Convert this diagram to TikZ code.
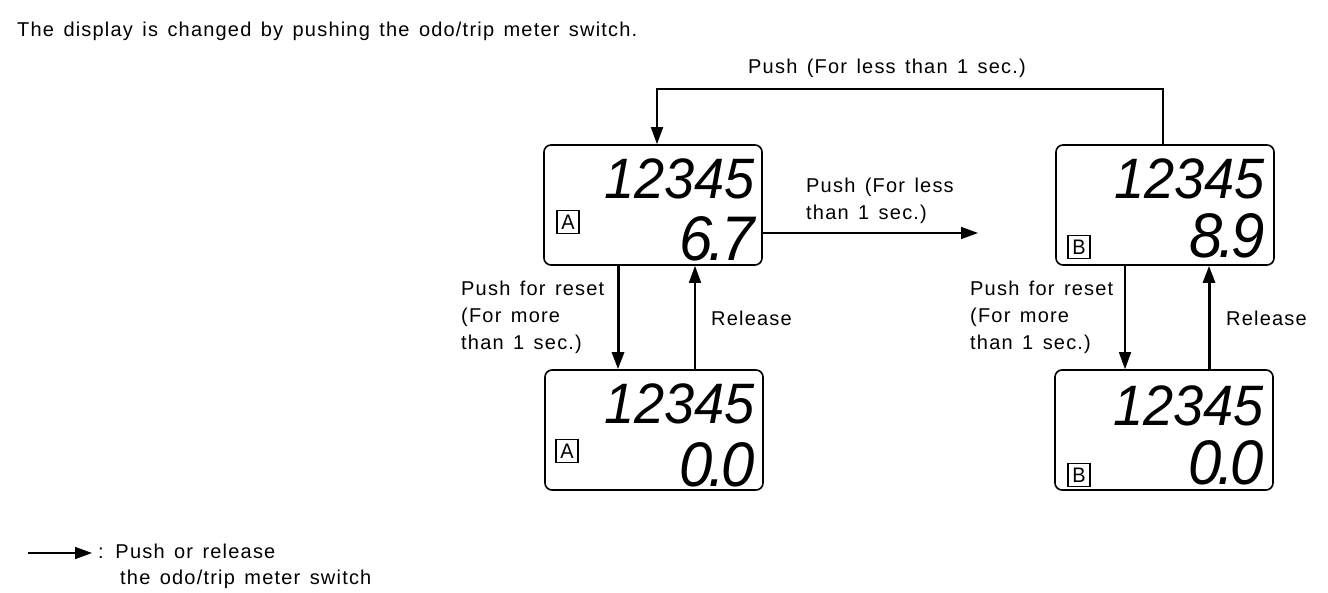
\documentclass[tikz,border=0pt]{standalone}
\usepackage{fontspec}
\newfontfamily\lblfont[LetterSpace=6,WordSpace=1.4]{Liberation Sans}
\newfontfamily\lcdfont[FakeStretch=0.95]{Liberation Sans}
\usetikzlibrary{arrows.meta,positioning,calc}

\begin{document}
\begin{tikzpicture}[x=1pt, y=-1pt, >={Triangle[length=17pt,width=12pt]},
    every node/.style={font=\lblfont\fontsize{20}{27}\selectfont},
    lbl/.style={inner sep=0pt},
    display/.style={draw, line width=1.6pt, rounded corners=7pt, minimum width=218pt, minimum height=120pt, inner sep=0pt},
    tag/.style={draw, line width=1.8pt, minimum width=22pt, minimum height=23pt, inner sep=0pt, font=\lcdfont\fontsize{21}{21}\selectfont},
    odo/.style={inner sep=0pt, anchor=base east, font=\lcdfont\itshape\fontsize{57}{57}\selectfont},
    trip/.style={inner sep=0pt, anchor=base east, font=\lcdfont\itshape\fontsize{63}{63}\selectfont},
    thin line/.style={->, line width=1.3pt},
    thick line/.style={->, line width=3pt}]
    \useasboundingbox (0,0) rectangle (1328,592);

    % Titel
    \node[lbl, anchor=base west] (title) at (17,36) {The display is changed by pushing the odo/trip meter switch.};

    % --- Displays ---
    \node[display] (dispA) at (653,205) {};
    \node[display] (dispAzero) at (654,430) {};
    \node[display] (dispB) at (1165,205) {};
    \node[display] (dispBzero) at (1164,430) {};

    % Inhoud van de displays
    \node[odo] at (755,198) {12345};
    \node[trip] at (755,260) {6\kern-4pt.\kern-4pt7};
    \node[tag] at (568,222) {A};

    \node[odo] at (755,423) {12345};
    \node[trip] at (755,486) {0\kern-4pt.\kern-4pt0};
    \node[tag] at (567,451) {A};

    \node[odo] at (1265,198) {12345};
    \node[trip] at (1265,257) {8\kern-4pt.\kern-4pt9};
    \node[tag] at (1079,247) {B};

    \node[odo] at (1264,425) {12345};
    \node[trip] at (1264,484) {0\kern-4pt.\kern-4pt0};
    \node[tag] at (1079,475) {B};

    % --- Pijlen ---
    \coordinate (loopL) at (657,89);
    \coordinate (midR) at (978,233);
    \draw[->, line width=1.6pt] ([xshift=-2pt]dispB.north) |- (loopL) -- ([xshift=4pt]dispA.north);
    \draw[->, line width=1.6pt] (dispA.east |- midR) -- (midR);

    \draw[thick line] ([xshift=-35pt]dispA.south) -- ([xshift=-36pt]dispAzero.north);
    \draw[thin line] ([xshift=41pt]dispAzero.north) -- ([xshift=42pt]dispA.south);
    \draw[thin line] ([xshift=-40pt]dispB.south) -- ([xshift=-39pt]dispBzero.north);
    \draw[thick line] ([xshift=45pt]dispBzero.north) -- ([xshift=44pt]dispB.south);

    % Labels
    \node[lbl, anchor=base west] at (748,73) {Push (For less than 1 sec.)};
    \node[lbl, anchor=north west, align=left] at (806,178) {Push (For less\\than 1 sec.)};
    \node[lbl, anchor=north west, align=left] at (461,281) {Push for reset\\(For more\\than 1 sec.)};
    \node[lbl, anchor=base west] at (711,325) {Release};
    \node[lbl, anchor=north west, align=left] at (970,281) {Push for reset\\(For more\\than 1 sec.)};
    \node[lbl, anchor=base west] at (1226,325) {Release};

    % --- Legende ---
    \coordinate (legA) at (28,553);
    \coordinate (legB) at (92,553);
    \draw[->, line width=1.6pt] (legA) -- (legB);
    \node[lbl, anchor=base west] at (98,558) {: Push or release};
    \node[lbl, anchor=base west] at (120,584) {the odo/trip meter switch};

\end{tikzpicture}
\end{document}
